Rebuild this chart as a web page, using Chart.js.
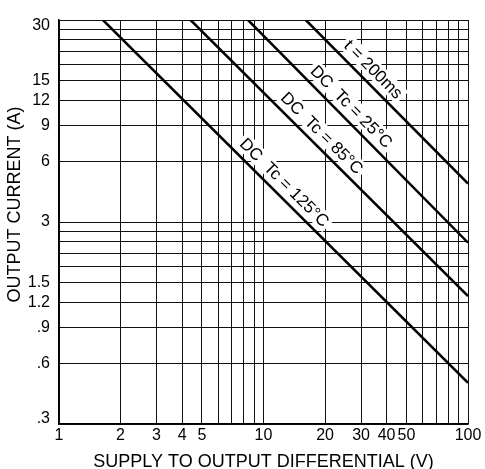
<!DOCTYPE html>
<html>
<head>
<meta charset="utf-8">
<script src="https://cdn.jsdelivr.net/npm/chart.js@4.4.0/dist/chart.umd.min.js"></script>
<style>
html, body { margin: 0; padding: 0; background: #fff; }
</style>
</head>
<body>
<canvas id="soa" width="485" height="469"></canvas>
<script>
// grid lines and tick labels
const xGrid = [1, 2, 3, 4, 5, 6, 7, 8, 9, 10, 20, 30, 40, 50, 60, 70, 80, 90, 100];
const xLabels = ['1', '2', '3', '4', '5', '', '', '', '', '10', '20', '30', '40', '50', '', '', '', '', '100'];
const yGrid = [0.3, 0.6, 0.9, 1.2, 1.5, 1.8, 2.1, 2.4, 2.7, 3, 6, 9, 12, 15, 18, 21, 24, 27, 30];
const yLabels = ['.3', '.6', '.9', '1.2', '1.5', '', '', '', '', '3', '6', '9', '12', '15', '', '', '', '', '30'];

// curves: end points as [V, A]
const curveNames = ['t = 200ms', 'DC  Tc = 25°C', 'DC  Tc = 85°C', 'DC  Tc = 125°C'];
const pulse200ms = [[16.1, 30], [100, 4.65]];
const dcTc25 = [[8.4, 30], [100, 2.37]];
const dcTc85 = [[4.4, 30], [100, 1.29]];
const dcTc125 = [[1.64, 30], [100, 0.48]];

const FONT = '"Liberation Sans", Arial, Helvetica, sans-serif';

// where the curve labels sit: voltage along the curve + distance off the line (px)
const labelSpots = [
    { v: 31.0, off: 13.4 },
    { v: 24.3, off: 12.9 },
    { v: 17.5, off: 12.7 },
    { v: 11.45, off: 12.9 }
];

const curveLabels = {
    id: 'curveLabels',
    beforeDatasetsDraw(chart) {
        const ctx = chart.ctx;
        const xs = chart.scales.x, ys = chart.scales.y;
        ctx.save();
        ctx.font = '17px ' + FONT;
        ctx.textAlign = 'center';
        ctx.textBaseline = 'middle';
        chart.data.datasets.forEach((ds, i) => {
            const p0 = ds.data[0], p1 = ds.data[ds.data.length - 1];
            const spot = labelSpots[i];
            const t = Math.log(spot.v / p0.x) / Math.log(p1.x / p0.x);
            const a = Math.exp(Math.log(p0.y) + t * Math.log(p1.y / p0.y));
            const px = xs.getPixelForValue(spot.v), py = ys.getPixelForValue(a);
            const ang = Math.atan2(ys.getPixelForValue(p1.y) - ys.getPixelForValue(p0.y),
                                   xs.getPixelForValue(p1.x) - xs.getPixelForValue(p0.x));
            const cx = px + Math.sin(ang) * spot.off, cy = py - Math.cos(ang) * spot.off;
            const w = ctx.measureText(ds.label).width + 6, h = 18;
            ctx.save();
            ctx.translate(cx, cy);
            ctx.rotate(ang);
            ctx.fillStyle = '#fff';
            ctx.fillRect(-w / 2, -h / 2, w, h);
            ctx.fillStyle = '#000';
            ctx.fillText(ds.label, 0, 1);
            ctx.restore();
        });
        ctx.restore();
    }
};

function toPoints(arr) {
    return arr.map(p => ({ x: p[0], y: p[1] }));
}

const curves = [pulse200ms, dcTc25, dcTc85, dcTc125];

const config = {
    type: 'line',
    data: {
        datasets: curves.map((c, i) => ({
            label: curveNames[i],
            data: toPoints(c),
            borderColor: '#000',
            borderWidth: 2.5,
            pointRadius: 0,
            fill: false,
            tension: 0
        }))
    },
    options: {
        responsive: false,
        animation: false,
        devicePixelRatio: 1,
        layout: { padding: { top: 14, right: 17, left: 0, bottom: 0 } },
        plugins: { legend: { display: false }, tooltip: { enabled: false } },
        scales: {
            x: {
                type: 'logarithmic',
                min: 1, max: 100,
                afterBuildTicks: (scale) => { scale.ticks = xGrid.map(v => ({ value: v })); },
                afterFit: (scale) => { scale.height = 45; },
                grid: { color: '#111', lineWidth: 1, drawTicks: false },
                border: { display: true, color: '#000', width: 1.5 },
                ticks: {
                    autoSkip: false, maxRotation: 0, padding: 2, color: '#000',
                    font: { family: FONT, size: 16 },
                    callback: (v, i) => xLabels[i]
                },
                title: {
                    display: true, text: 'SUPPLY TO OUTPUT DIFFERENTIAL (V)', color: '#000',
                    font: { family: FONT, size: 18, lineHeight: 1 },
                    padding: { top: 0, bottom: -2 }
                }
            },
            y: {
                type: 'logarithmic',
                min: 0.3, max: 30,
                afterBuildTicks: (scale) => { scale.ticks = yGrid.map(v => ({ value: v })); },
                afterFit: (scale) => { scale.width = 59; },
                grid: { color: '#111', lineWidth: 1, drawTicks: false },
                border: { display: true, color: '#000', width: 1.5 },
                ticks: {
                    autoSkip: false, padding: 9, color: '#000',
                    font: { family: FONT, size: 16, lineHeight: '11px' },
                    // end labels are nudged inside the frame, as on the original
                    callback: (v, i) => {
                        if (i === 0) return [yLabels[i], ''];
                        if (i === yGrid.length - 1) return ['', yLabels[i]];
                        return yLabels[i];
                    }
                },
                title: {
                    display: true, text: '       OUTPUT CURRENT (A)', color: '#000',
                    font: { family: FONT, size: 18, lineHeight: 1 },
                    padding: { top: 6, bottom: 0 }
                }
            }
        }
    },
    plugins: [curveLabels]
};

new Chart(document.getElementById('soa').getContext('2d'), config);
</script>
</body>
</html>
